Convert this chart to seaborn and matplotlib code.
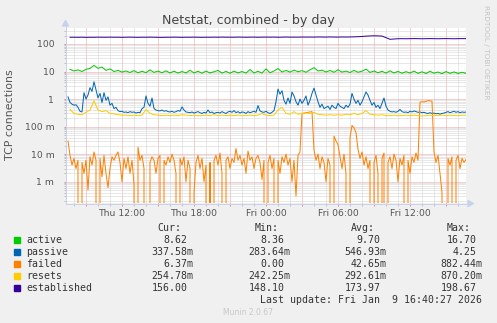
import numpy as np
import pandas as pd
import matplotlib
matplotlib.use("Agg")
import matplotlib.pyplot as plt
import matplotlib.dates as mdates
from matplotlib.patches import Rectangle, Polygon
from matplotlib.lines import Line2D
from matplotlib.ticker import FixedLocator, FixedFormatter, LogLocator, NullFormatter, FuncFormatter
import seaborn as sns

W, H, DPI = 497, 323, 100

# ---- sample times (window ends Fri 16:40) ----
t_10min = pd.date_range("2026-01-08 07:30", periods=200, freq="10min")
t_20min = pd.date_range("2026-01-08 07:40", periods=100, freq="20min")
x_start = pd.Timestamp("2026-01-08 07:20")
x_end = pd.Timestamp("2026-01-09 16:40")

# ---- series (connections per second) ----
active = [
    12, 10.5, 11.5, 10, 12, 13, 16.7, 13, 14.5, 11,
    12.5, 10, 11, 9.5, 10.5, 9.2, 10.8, 9, 10.2, 9.1,
    11.5, 9.3, 10.4, 9, 10.6, 8.9, 10.3, 8.8, 10.0, 8.9,
    11.2, 8.9, 10.2, 8.7, 10.4, 8.9, 9.8, 11.0, 8.8, 10.1,
    8.7, 10.3, 8.9, 10.0, 8.8, 11.8, 8.9, 10.2, 8.8, 12.5,
    9.0, 10.5, 12.8, 9.6, 11.0, 9.5, 11.3, 9.8, 10.8, 9.4,
    11.5, 13.8, 10.5, 11.2, 9.6, 10.9, 9.4, 11.6, 9.5, 10.4,
    9.2, 11.0, 9.4, 10.3, 12.2, 9.3, 10.5, 9.0, 10.2, 8.8,
    10.6, 8.9, 10.1, 8.7, 9.9, 8.8, 10.4, 8.6, 9.8, 8.5,
    10.2, 8.7, 9.6, 8.36, 10.0, 8.6, 9.7, 8.5, 9.4, 8.62,
]

passive = [
    1.2, 0.75, 0.65, 0.6, 0.62, 0.5, 0.36, 0.34, 1.7, 1.0,
    1.4, 2.6, 1.9, 4.25, 2.2, 1.1, 1.6, 0.75, 1.7, 0.9,
    1.2, 0.6, 0.7, 0.45, 0.5, 0.38, 0.35, 0.36, 0.33, 0.34,
    0.32, 0.35, 0.33, 0.34, 0.31, 0.33, 0.32, 0.45, 0.5, 1.3,
    0.7, 0.55, 1.1, 0.45, 0.4, 0.38, 0.37, 0.4, 0.36, 0.38,
    0.35, 0.34, 0.36, 0.33, 0.35, 0.38, 0.36, 0.52, 0.4, 0.34,
    0.33, 0.32, 0.34, 0.31, 0.33, 0.35, 0.32, 0.3, 0.33, 0.31,
    0.4, 0.32, 0.34, 0.3, 0.32, 0.33, 0.31, 0.35, 0.32, 0.3,
    0.34, 0.36, 0.33, 0.38, 0.32, 0.35, 0.31, 0.34, 0.33, 0.3,
    0.35, 0.32, 0.34, 0.36, 0.33, 0.58, 0.37, 0.34, 0.33, 0.36,
    0.32, 0.3, 0.33, 0.38, 0.8, 2.3, 1.5, 2.0, 0.9, 0.65,
    1.1, 0.7, 1.8, 1.3, 0.8, 0.6, 1.0, 0.7, 0.9, 1.3,
    0.6, 0.9, 1.6, 2.5, 1.4, 0.8, 0.5, 0.65, 0.45, 0.5,
    0.55, 0.42, 0.6, 0.5, 0.45, 0.7, 0.55, 0.5, 0.45, 0.6,
    0.5, 0.65, 1.6, 1.0, 0.7, 0.9, 0.6, 0.8, 1.2, 1.8,
    1.4, 0.9, 0.6, 0.75, 0.5, 0.6, 0.45, 0.7, 1.1, 0.55,
    0.4, 0.36, 0.34, 0.35, 0.33, 0.36, 0.42, 0.35, 0.33, 0.34,
    0.32, 0.36, 0.34, 0.37, 0.35, 0.33, 0.34, 0.32, 0.33, 0.31,
    0.3, 0.32, 0.3, 0.31, 0.29, 0.3, 0.28364, 0.3, 0.31, 0.33,
    0.35, 0.32, 0.34, 0.36, 0.33, 0.35, 0.32, 0.34, 0.33, 0.33758,
]

# failed connections, in thousandths
failed_milli = [
    30, 9, 4, 7, 3, 6, 0, 5, 2, 6,
    0.5, 8, 4, 12, 6, 0, 7, 1.5, 9, 2,
    0.6, 3, 8, 6, 9, 12, 5, 1, 7, 3,
    8, 2, 6, 0.8, 0, 18, 6, 9, 3, 0,
    0, 5, 8, 6, 2, 7, 9, 0, 6, 4,
    8, 5, 10, 6, 2, 0, 7, 4, 8, 1,
    6, 3, 0, 0.4, 5, 9, 3, 7, 1, 4,
    0, 5, 0, 6, 9, 4, 11, 2, 0, 6,
    8, 3, 7, 5, 16, 6, 9, 4, 7, 2,
    13, 6, 8, 3, 7, 9, 5, 1.2, 6, 0,
    5, 9, 3, 7, 0, 6, 2, 8, 5, 10,
    4, 7, 1, 6, 0.3, 9, 12, 300, 310, 320,
    330, 340, 350, 14, 6, 10, 3, 8, 5, 1,
    7, 4, 0, 45, 30, 22, 8, 3, 10, 2,
    0, 40, 110, 90, 60, 15, 7, 12, 4, 8,
    3, 6, 0, 5, 9, 2, 0, 7, 11, 0,
    5, 8, 3, 10, 6, 1, 7, 4, 9, 0,
    6, 2, 8, 5, 11, 6, 780, 800, 790, 820,
    882.44, 860, 840, 12, 5, 9, 2, 0.4, 0, 0,
    7, 4, 8, 0, 6, 9, 3, 7, 5, 6.37,
]

resets = [
    0.42, 0.3, 0.28, 0.27, 0.33, 0.4, 0.8702, 0.4, 0.35, 0.38,
    0.3, 0.29, 0.27, 0.26, 0.26, 0.25, 0.26, 0.25, 0.26, 0.42,
    0.3, 0.27, 0.26, 0.25, 0.26, 0.25, 0.26, 0.25, 0.27, 0.26,
    0.25, 0.26, 0.25, 0.25, 0.26, 0.25, 0.27, 0.25, 0.26, 0.25,
    0.26, 0.25, 0.26, 0.25, 0.25, 0.26, 0.25, 0.26, 0.3, 0.26,
    0.25, 0.26, 0.4, 0.5, 0.3, 0.28, 0.35, 0.28, 0.3, 0.31,
    0.3, 0.33, 0.28, 0.27, 0.26, 0.27, 0.26, 0.27, 0.26, 0.28,
    0.27, 0.3, 0.27, 0.3, 0.38, 0.28, 0.27, 0.26, 0.27, 0.25,
    0.25, 0.26, 0.25, 0.25, 0.26, 0.25, 0.26, 0.25, 0.24225, 0.25,
    0.26, 0.25, 0.25, 0.26, 0.25, 0.26, 0.25, 0.25, 0.26, 0.25478,
]

established = [
    176, 176, 175, 177, 174, 176, 175, 177, 176, 176,
    177, 176, 176, 175, 176, 177, 176, 175, 176, 176,
    177, 176, 175, 174, 176, 176, 177, 176, 175, 176,
    176, 177, 176, 175, 176, 176, 177, 176, 178, 176,
    177, 176, 178, 177, 176, 177, 178, 176, 177, 178,
    177, 178, 176, 177, 179, 177, 178, 177, 179, 178,
    179, 178, 180, 179, 178, 180, 179, 178, 180, 179,
    180, 182, 184, 188, 193, 196, 198.67, 197, 194, 170,
    148.1, 152, 155, 156, 155, 156, 157, 156, 155, 156,
    157, 156, 155, 156, 157, 156, 155, 156, 157, 156,
]

# ---- legend table ----
series_names = ["active", "passive", "failed", "resets", "established"]
series_colors = ["#00CC00", "#0066B3", "#FF8000", "#FFCC00", "#330099"]
cur_text = ["8.62", "337.58m", "6.37m", "254.78m", "156.00"]
min_text = ["8.36", "283.64m", "0.00", "242.25m", "148.10"]
avg_text = ["9.70", "546.93m", "42.65m", "292.61m", "173.97"]
max_text = ["16.70", "4.25", "882.44m", "870.20m", "198.67"]
column_heads = ["Cur:", "Min:", "Avg:", "Max:"]

ytick_values = [1e-3, 1e-2, 1e-1, 1, 10, 100]
ytick_labels = ["1 m", "10 m", "100 m", "1", "10", "100"]

title = "Netstat, combined - by day"
ylabel = "TCP connections"
last_update = "Last update: Fri Jan  9 16:40:27 2026"
footer = "Munin 2.0.67"
side_note = "RRDTOOL / TOBI OETIKER"

plt.rcParams["font.family"] = ["DejaVu Sans"]


def fx(x):
    return x / W


def fy(y):
    return 1 - y / H


PX = 72.0 / DPI  # one pixel in points

fig = plt.figure(figsize=(W / DPI, H / DPI), dpi=DPI, facecolor="#F0F0F0")
ax = fig.add_axes([fx(66), fy(203), 400 / W, 175 / H])
ax.set_facecolor("white")

line_kw = dict(ax=ax, linewidth=1.0 * PX, legend=False, estimator=None,
               errorbar=None, sort=False)
sns.lineplot(x=t_20min, y=active, color=series_colors[0], **line_kw)
sns.lineplot(x=t_10min, y=passive, color=series_colors[1], **line_kw)
sns.lineplot(x=t_10min, y=np.asarray(failed_milli) * 1e-3, color=series_colors[2], **line_kw)
sns.lineplot(x=t_20min, y=resets, color=series_colors[3], **line_kw)
sns.lineplot(x=t_20min, y=established, color=series_colors[4], **line_kw)

ax.set_yscale("log", nonpositive="clip")
ax.set_xlim(x_start, x_end)
ax.set_ylim(10 ** -3.7755, 10 ** 2.581)
ax.set_xlabel("")
ax.set_ylabel("")

# y axis
ax.yaxis.set_major_locator(FixedLocator(ytick_values))
ax.yaxis.set_major_formatter(FixedFormatter(ytick_labels))
ax.yaxis.set_minor_locator(LogLocator(base=10, subs=np.arange(2, 10)))
ax.yaxis.set_minor_formatter(NullFormatter())

# x axis: red grid every 3 h, labels every 6 h, grey grid hourly
ax.xaxis.set_major_locator(mdates.HourLocator(byhour=range(0, 24, 3)))
ax.xaxis.set_minor_locator(mdates.HourLocator())


def hour_label(v, pos):
    d = mdates.num2date(v)
    return d.strftime("%a %H:%M") if d.hour % 6 == 0 else ""


ax.xaxis.set_major_formatter(FuncFormatter(hour_label))

dotted = (0, (1, 1))
ax.grid(which="major", color="#E8A0A0", linestyle=dotted, linewidth=PX)
ax.grid(which="minor", color="#D2D2D2", linestyle=dotted, linewidth=PX)
ax.set_axisbelow(True)

for s in ax.spines.values():
    s.set_visible(False)

ax.tick_params(axis="x", which="major", direction="out", length=3 * PX, width=PX,
               color="#E09090", labelsize=6.7, labelcolor="#555555", pad=2.0)
ax.tick_params(axis="x", which="minor", direction="out", length=3 * PX, width=PX,
               color="#C0C0C0")
ax.tick_params(axis="y", which="major", direction="out", length=2 * PX, width=PX,
               color="#E09090", labelsize=6.7, labelcolor="#555555", pad=7.0)
ax.tick_params(axis="y", which="minor", direction="out", length=2 * PX, width=PX,
               color="#C0C0C0")

# axis lines with arrow heads
axis_col = "#C8D2EE"
fig.add_artist(Line2D([fx(65.5), fx(65.5)], [fy(203.5), fy(24)], color=axis_col,
                      linewidth=PX, transform=fig.transFigure))
fig.add_artist(Line2D([fx(65.5), fx(469)], [fy(203.5), fy(203.5)], color=axis_col,
                      linewidth=PX, transform=fig.transFigure))
fig.add_artist(Polygon([[fx(62.5), fy(26)], [fx(68.5), fy(26)], [fx(65.5), fy(20.5)]],
                       closed=True, color=axis_col, transform=fig.transFigure))
fig.add_artist(Polygon([[fx(468), fy(200.5)], [fx(468), fy(206.5)], [fx(473.5), fy(203.5)]],
                       closed=True, color=axis_col, transform=fig.transFigure))

# title, axis label, side notes
fig.text(fx(248), fy(24), title, ha="center", va="baseline", fontsize=9.1, color="#444444")
fig.text(fx(10.5), fy(114.5), ylabel, rotation=90, ha="center", va="center",
         fontsize=7.9, color="#555555")
fig.text(fx(486), fy(52), side_note, rotation=270, ha="center", va="center",
         fontsize=5.3, color="#C4C4C4")
fig.text(fx(248), fy(315), footer, ha="center", va="baseline", fontsize=5.5, color="#C8C8C8")

# legend table
mono = dict(family="DejaVu Sans Mono", fontsize=7.1, color="#333333", va="baseline")
col_right = [193.3, 290.7, 386.7, 482.7]
char_w = 5.96
for head, edge in zip(column_heads, col_right):
    fig.text(fx(edge - 2 * char_w), fy(231.2), head, ha="right", **mono)

for k, name in enumerate(series_names):
    yc = 239.5 + 12 * k
    fig.add_artist(Rectangle((fx(14), fy(yc + 3)), 6 / W, 6 / H, color=series_colors[k],
                             transform=fig.transFigure))
    fig.text(fx(26.3), fy(yc + 3.5), name, ha="left", **mono)
    for edge, txt in zip(col_right, [cur_text[k], min_text[k], avg_text[k], max_text[k]]):
        right = edge if txt.endswith("m") else edge - char_w
        fig.text(fx(right), fy(yc + 3.5), txt, ha="right", **mono)

fig.text(fx(482.3), fy(303), last_update, ha="right", **mono)

fig.savefig("out.png", dpi=DPI, facecolor=fig.get_facecolor())
